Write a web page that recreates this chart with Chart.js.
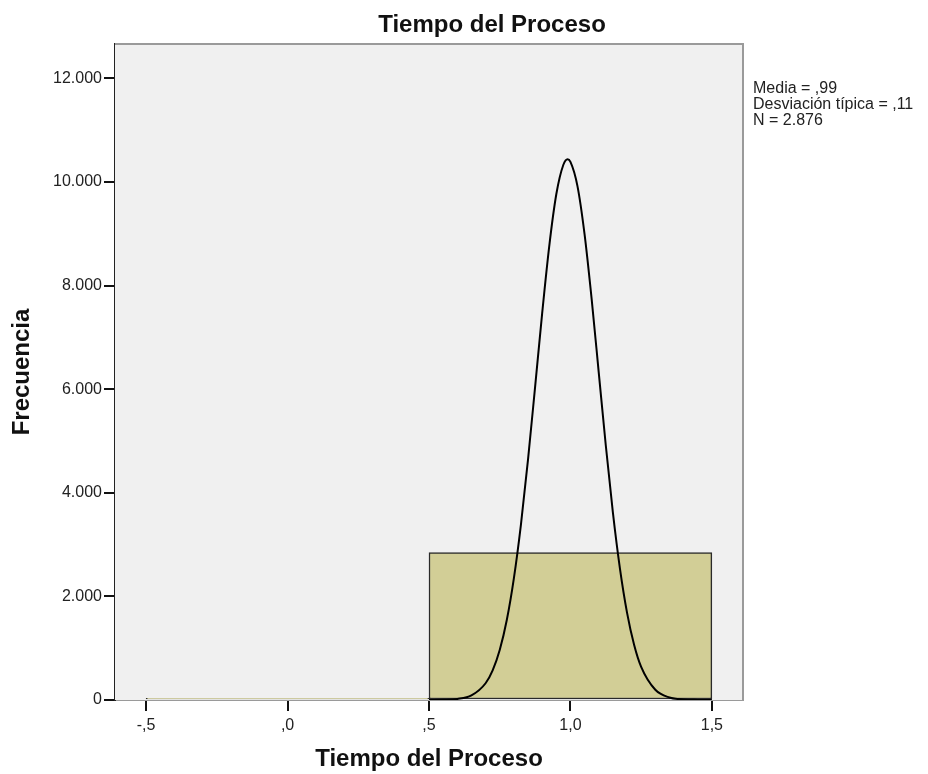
<!DOCTYPE html>
<html>
<head>
<meta charset="utf-8">
<script src="https://cdn.jsdelivr.net/npm/chart.js@4"></script>
<style>
  html, body { margin: 0; padding: 0; background: #ffffff; }
  #wrap { width: 928px; height: 774px; position: relative; }
</style>
</head>
<body>
<div id="wrap"><canvas id="c" width="928" height="774"></canvas></div>
<script>
// ---- data ----
const binCenters = [0, 1];
const binCounts = [32, 2844];
const curveX = [0.50, 0.55, 0.60, 0.65, 0.70, 0.725, 0.75, 0.775, 0.80, 0.825, 0.85, 0.875, 0.90, 0.925, 0.95, 0.975, 0.99, 1.00, 1.025, 1.05, 1.075, 1.10, 1.125, 1.15, 1.175, 1.20, 1.225, 1.25, 1.30, 1.35, 1.40, 1.45, 1.50];
const curveY = [0, 4, 20, 88, 323, 573, 966, 1544, 2347, 3387, 4641, 6041, 7464, 8759, 9763, 10333, 10440, 10387, 9916, 8988, 7738, 6326, 4913, 3621, 2536, 1687, 1065, 638, 197, 49, 10, 2, 0];
const yTickValues = [0, 2000, 4000, 6000, 8000, 10000, 12000];
const yTickLabels = ['0', '2.000', '4.000', '6.000', '8.000', '10.000', '12.000'];
const xTickValues = [-0.5, 0, 0.5, 1.0, 1.5];
const xTickLabels = ['-,5', ',0', ',5', '1,0', '1,5'];
const chartTitle = 'Tiempo del Proceso';
const xTitle = 'Tiempo del Proceso';
const yTitle = 'Frecuencia';
const statsLines = ['Media = ,99', 'Desviación típica = ,11', 'N = 2.876'];

const FONT = '"Liberation Sans", Arial, sans-serif';

const framePlugin = {
  id: 'frame',
  beforeDatasetsDraw(chart) {
    const a = chart.chartArea, ctx = chart.ctx;
    ctx.save();
    ctx.fillStyle = '#f0f0f0';
    ctx.fillRect(a.left, a.top, a.right - a.left, a.bottom - a.top);
    ctx.restore();
  },
  afterDatasetsDraw(chart) {
    const a = chart.chartArea, ctx = chart.ctx;
    ctx.save();
    ctx.strokeStyle = '#9a9a9a';
    ctx.lineWidth = 2;
    ctx.beginPath();
    ctx.moveTo(a.left, a.top);
    ctx.lineTo(a.right, a.top);
    ctx.lineTo(a.right, a.bottom);
    ctx.stroke();
    ctx.restore();
  },
  afterDraw(chart) {
    const a = chart.chartArea, ctx = chart.ctx;
    ctx.save();
    ctx.fillStyle = '#111';
    ctx.font = 'bold 24px ' + FONT;
    ctx.textAlign = 'center';
    ctx.textBaseline = 'alphabetic';
    ctx.fillText(chartTitle, 492, 32);
    ctx.font = '16px ' + FONT;
    ctx.textAlign = 'left';
    ctx.fillStyle = '#222';
    statsLines.forEach((t, i) => ctx.fillText(t, a.right + 10, 93 + i * 16));
    ctx.restore();
  }
};

new Chart(document.getElementById('c'), {
  type: 'bar',
  data: {
    datasets: [
      {
        type: 'line',
        data: curveX.map((x, i) => ({ x: x, y: curveY[i] })),
        borderColor: '#000',
        borderWidth: 2,
        pointRadius: 0,
        fill: false,
        cubicInterpolationMode: 'monotone',
        order: 0
      },
      {
        type: 'bar',
        data: binCenters.map((x, i) => ({ x: x, y: binCounts[i] })),
        backgroundColor: '#d2ce96',
        borderColor: '#2a2a2a',
        borderWidth: 1.5,
        borderSkipped: false,
        barThickness: 'flex',
        barPercentage: 1,
        categoryPercentage: 1,
        order: 1
      }
    ]
  },
  options: {
    responsive: false,
    animation: false,
    devicePixelRatio: 1,
    layout: { padding: { left: 0, right: 185, top: 44, bottom: 0 } },
    plugins: { legend: { display: false }, tooltip: { enabled: false }, title: { display: false } },
    scales: {
      x: {
        type: 'linear',
        min: -0.61,
        max: 1.61,
        offset: false,
        afterFit(s) { s.height = 74; },
        afterBuildTicks(s) { s.ticks = xTickValues.map(v => ({ value: v })); },
        ticks: {
          autoSkip: false,
          maxRotation: 0,
          padding: 5,
          color: '#222',
          font: { family: FONT, size: 16 },
          callback: (v) => { const i = xTickValues.findIndex(t => Math.abs(t - v) < 1e-9); return i >= 0 ? xTickLabels[i] : ''; }
        },
        grid: { display: true, offset: false, drawOnChartArea: false, drawTicks: true, tickLength: 11, color: '#111', lineWidth: 2 },
        border: { display: true, color: '#9a9a9a', width: 1 },
        title: { display: true, text: xTitle, color: '#111', font: { family: FONT, size: 24, weight: 'bold' }, padding: { top: 6, bottom: 0 } }
      },
      y: {
        type: 'linear',
        min: 0,
        max: 12664,
        afterFit(s) { s.width = 115; },
        afterBuildTicks(s) { s.ticks = yTickValues.map(v => ({ value: v })); },
        ticks: {
          padding: 2,
          color: '#222',
          font: { family: FONT, size: 16 },
          callback: (v) => { const i = yTickValues.indexOf(v); return i >= 0 ? yTickLabels[i] : ''; }
        },
        grid: { display: true, drawOnChartArea: false, drawTicks: true, tickLength: 11, color: '#111', lineWidth: 2 },
        border: { display: true, color: '#222', width: 2 },
        title: { display: true, text: yTitle, color: '#111', font: { family: FONT, size: 24, weight: 'bold' }, padding: { top: 8, bottom: 0 } }
      }
    }
  },
  plugins: [framePlugin]
});
</script>
</body>
</html>
